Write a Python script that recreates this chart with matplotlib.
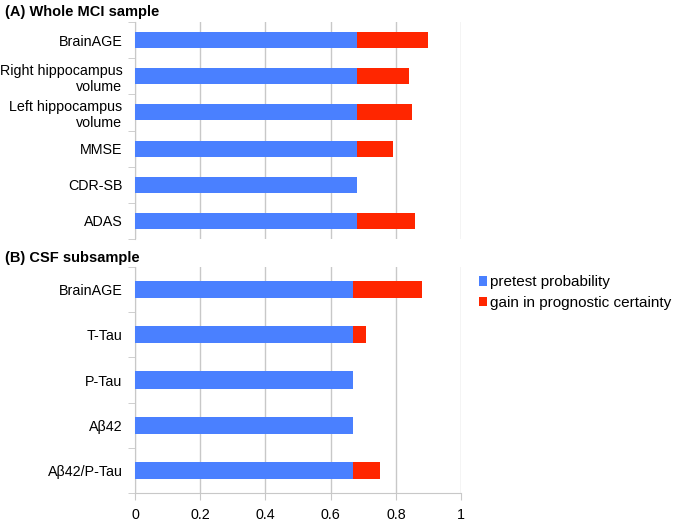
import numpy as np
import matplotlib.pyplot as plt

plt.rcParams['font.family'] = ['Liberation Sans', 'DejaVu Sans']

# (A) whole MCI sample
labels_a = ['BrainAGE', 'Right hippocampus\nvolume', 'Left hippocampus\nvolume',
            'MMSE', 'CDR-SB', 'ADAS']
pretest_a = [0.68, 0.68, 0.68, 0.68, 0.68, 0.68]
gain_a = [0.22, 0.16, 0.17, 0.11, 0.0, 0.18]

# (B) CSF subsample
labels_b = ['BrainAGE', 'T-Tau', 'P-Tau', 'Aβ42', 'Aβ42/P-Tau']
pretest_b = [0.67, 0.67, 0.67, 0.67, 0.67]
gain_b = [0.21, 0.04, 0.0, 0.0, 0.08]

blue = '#4A80FF'
red = '#FF2600'
grid = '#C8C8C8'

fig = plt.figure(figsize=(6.75, 5.21), dpi=100)
ax_a = fig.add_axes([0.2, 1 - 239/521, 0.483, 217/521])
ax_b = fig.add_axes([0.2, 1 - 493/521, 0.483, 226/521])


def draw(ax, labels, pre, gain, h):
    y = np.arange(len(labels))
    ax.barh(y, pre, height=h, color=blue, label='pretest probability', zorder=3)
    ax.barh(y, gain, left=pre, height=h, color=red,
            label='gain in prognostic certainty', zorder=3)
    ax.set_ylim(len(labels) - 0.5, -0.5)
    ax.set_xlim(0, 1)
    ax.set_xticks(np.arange(0, 1.01, 0.2))
    ax.set_yticks(y)
    ax.set_yticklabels(labels, fontsize=10.3)
    ax.set_yticks(np.arange(-0.5, len(labels), 1), minor=True)
    ax.tick_params(axis='y', which='major', length=0, pad=9)
    ax.tick_params(axis='y', which='minor', length=5, color=grid)
    ax.grid(axis='x', color=grid, lw=1, zorder=0)
    for s in ['top', 'right', 'bottom']:
        ax.spines[s].set_visible(False)
    ax.spines['left'].set_color(grid)


draw(ax_a, labels_a, pretest_a, gain_a, 0.44)
ax_a.tick_params(axis='x', length=0, labelbottom=False)

draw(ax_b, labels_b, pretest_b, gain_b, 0.38)
ax_b.spines['bottom'].set_visible(True)
ax_b.spines['bottom'].set_color(grid)
ax_b.tick_params(axis='x', length=5, color=grid, labelsize=10.3, pad=6)
ax_b.set_xticklabels(['0', '0.2', '0.4', '0.6', '0.8', '1'])

fig.text(0.008, 1 - 12/521, '(A) Whole MCI sample', fontsize=10.5, fontweight='bold', va='center')
fig.text(0.008, 1 - 258/521, '(B) CSF subsample', fontsize=10.5, fontweight='bold', va='center')

ax_b.legend(loc='upper left', bbox_to_anchor=(1.035, 0.99), frameon=False,
            fontsize=11, handlelength=0.55, handleheight=0.55, handletextpad=0.2,
            labelspacing=0.45, borderaxespad=0)

fig.savefig('out.png', dpi=100)
